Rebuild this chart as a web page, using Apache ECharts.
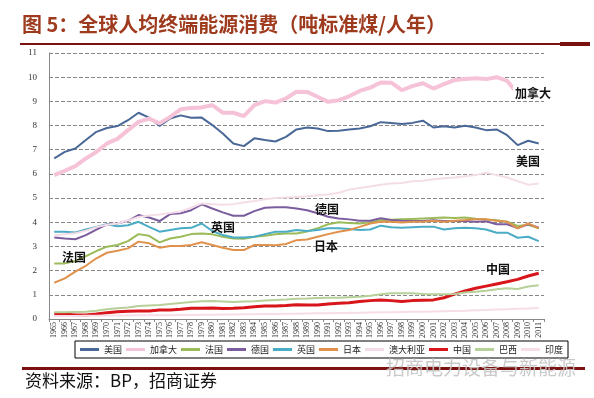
<!DOCTYPE html>
<html>
<head>
<meta charset="utf-8">
<script src="https://cdn.jsdelivr.net/npm/echarts@6/dist/echarts.min.js"></script>
<style>
    html, body { margin: 0; padding: 0; background: #fff; }
    #chart { width: 594px; height: 398px; }
</style>
</head>
<body>
<div id="chart"></div>
<script>
// years on the x axis
var years = ["1965","1966","1967","1968","1969","1970","1971","1972","1973","1974",
    "1975","1976","1977","1978","1979","1980","1981","1982","1983","1984",
    "1985","1986","1987","1988","1989","1990","1991","1992","1993","1994",
    "1995","1996","1997","1998","1999","2000","2001","2002","2003","2004",
    "2005","2006","2007","2008","2009","2010","2011"];

// per capita final energy use, tce / person-year
var usa = [6.64,6.91,7.05,7.40,7.74,7.90,7.98,8.22,8.53,8.33,
    7.98,8.29,8.42,8.32,8.33,8.02,7.67,7.26,7.15,7.47,
    7.40,7.34,7.53,7.84,7.92,7.88,7.77,7.78,7.84,7.88,
    7.97,8.14,8.11,8.06,8.11,8.20,7.92,7.97,7.92,7.99,
    7.92,7.81,7.84,7.60,7.19,7.37,7.26];
var canada = [5.95,6.13,6.32,6.64,6.91,7.26,7.45,7.81,8.15,8.29,
    8.09,8.36,8.67,8.73,8.75,8.84,8.53,8.53,8.39,8.84,
    9.01,8.95,9.12,9.40,9.39,9.19,8.98,9.05,9.21,9.43,
    9.57,9.78,9.77,9.46,9.63,9.75,9.53,9.71,9.88,9.92,
    9.96,9.92,10.00,9.85,9.30,9.40,9.40];
var france = [2.30,2.30,2.40,2.60,2.81,2.99,3.06,3.22,3.51,3.44,
    3.17,3.33,3.40,3.51,3.54,3.50,3.40,3.33,3.32,3.40,
    3.44,3.50,3.54,3.54,3.62,3.75,3.92,4.00,3.97,3.95,
    4.00,4.08,4.10,4.12,4.14,4.16,4.18,4.20,4.18,4.20,
    4.15,4.12,4.08,4.02,3.85,3.90,3.75];
var germany = [3.37,3.33,3.30,3.47,3.70,3.91,3.95,4.06,4.30,4.20,
    4.05,4.34,4.37,4.50,4.74,4.57,4.41,4.27,4.27,4.46,
    4.60,4.62,4.62,4.57,4.50,4.37,4.23,4.16,4.12,4.06,
    4.06,4.17,4.09,4.06,4.05,4.05,4.08,4.05,4.05,4.05,
    4.02,4.04,3.92,3.92,3.76,3.92,3.78];
var uk = [3.61,3.61,3.58,3.70,3.81,3.92,3.84,3.88,4.02,3.81,
    3.61,3.68,3.75,3.77,3.95,3.64,3.47,3.37,3.37,3.40,
    3.51,3.61,3.61,3.68,3.64,3.68,3.75,3.75,3.72,3.68,
    3.70,3.86,3.79,3.77,3.79,3.81,3.82,3.70,3.75,3.77,
    3.75,3.70,3.57,3.57,3.36,3.40,3.22];
var japan = [1.50,1.68,1.96,2.20,2.51,2.74,2.82,2.92,3.20,3.13,
    2.95,3.02,3.02,3.06,3.17,3.06,2.95,2.85,2.85,3.06,
    3.06,3.05,3.10,3.26,3.29,3.40,3.51,3.61,3.68,3.81,
    3.95,4.02,4.02,3.99,4.02,4.02,4.06,4.02,4.06,4.09,
    4.13,4.12,4.06,4.02,3.75,3.95,3.75];
var australia = [3.45,3.50,3.55,3.65,3.80,3.90,3.95,4.08,4.22,4.28,
    4.32,4.38,4.45,4.60,4.78,4.75,4.72,4.75,4.82,4.88,
    4.95,5.00,5.02,5.05,5.08,5.12,5.15,5.22,5.35,5.42,
    5.48,5.55,5.60,5.62,5.70,5.72,5.78,5.82,5.85,5.90,
    5.95,6.05,5.95,5.85,5.70,5.55,5.60];
var china = [0.21,0.21,0.17,0.17,0.21,0.26,0.30,0.32,0.33,0.33,
    0.37,0.37,0.40,0.44,0.44,0.45,0.43,0.44,0.47,0.51,
    0.54,0.54,0.56,0.59,0.58,0.58,0.62,0.65,0.67,0.72,
    0.76,0.79,0.76,0.72,0.76,0.78,0.79,0.88,1.03,1.16,
    1.27,1.36,1.45,1.54,1.64,1.78,1.89];
var brazil = [0.28,0.28,0.29,0.30,0.34,0.40,0.44,0.48,0.54,0.56,
    0.58,0.62,0.66,0.70,0.73,0.74,0.72,0.70,0.72,0.73,
    0.76,0.79,0.81,0.84,0.85,0.87,0.88,0.88,0.90,0.92,
    0.96,1.02,1.06,1.06,1.06,1.03,1.02,1.02,1.03,1.10,
    1.13,1.17,1.23,1.27,1.24,1.34,1.40];
var india = [0.12,0.12,0.12,0.13,0.13,0.14,0.14,0.14,0.15,0.15,
    0.16,0.16,0.17,0.17,0.18,0.18,0.19,0.19,0.20,0.20,
    0.21,0.21,0.22,0.22,0.23,0.24,0.24,0.25,0.25,0.26,
    0.27,0.28,0.28,0.29,0.30,0.30,0.31,0.32,0.33,0.34,
    0.36,0.37,0.39,0.40,0.42,0.43,0.45];

var names = ["美国","加拿大","法国","德国","英国","日本","澳大利亚","中国","巴西","印度"];
var values = [usa, canada, france, germany, uk, japan, australia, china, brazil, india];
var colors = ["#4A6897","#F5C2D8","#9BBB59","#7B5C9E","#4BACC6","#E0924C","#F4DDE8","#D8151B","#B7CF99","#F7DDE7"];
var widths = [2, 4, 2, 2, 2, 2, 2, 3, 2, 2];

var cjk = '"Noto Sans CJK SC", sans-serif';

function note(text, x, y, bg) {
    return {
        type: "text",
        z: 100,
        x: x,
        y: y,
        style: {
            text: text,
            font: "bold 12px " + cjk,
            fill: "#111",
            backgroundColor: bg ? "#fff" : null,
            padding: bg ? [1, 2] : 0
        }
    };
}

var series = [];
for (var i = 0; i < names.length; i++) {
    series.push({
        name: names[i],
        type: "line",
        data: values[i],
        symbol: "none",
        lineStyle: { color: colors[i], width: widths[i] },
        itemStyle: { color: colors[i] }
    });
}

var myChart = echarts.init(document.getElementById("chart"));
myChart.setOption({
    animation: false,
    backgroundColor: "#fff",
    grid: { left: 49, right: 50, top: 53, bottom: 79 },
    legend: {
        data: names,
        left: 75,
        top: 341,
        icon: "rect",
        itemWidth: 19,
        itemHeight: 3,
        itemGap: 4,
        padding: [4, 5],
        borderColor: "#000",
        borderWidth: 1,
        textStyle: { fontSize: 9, color: "#222", fontFamily: cjk }
    },
    xAxis: {
        type: "category",
        data: years,
        boundaryGap: true,
        axisLine: { lineStyle: { color: "#888" } },
        axisTick: { show: true, length: 3, lineStyle: { color: "#888" } },
        axisLabel: {
            interval: 0,
            rotate: 90,
            fontSize: 8,
            margin: 3,
            color: "#333",
            fontFamily: "Liberation Serif"
        }
    },
    yAxis: {
        type: "value",
        min: 0,
        max: 11,
        interval: 1,
        axisLine: { show: true, lineStyle: { color: "#888" } },
        axisTick: { show: false },
        axisLabel: { fontSize: 9, color: "#333", margin: 12, fontFamily: "Liberation Serif" },
        splitLine: { lineStyle: { color: "#888", type: "dashed", width: 1 } }
    },
    series: series,
    graphic: [
        {
            type: "text",
            x: 22,
            y: 14,
            style: {
                text: "图 5：全球人均终端能源消费（吨标准煤/人年）",
                font: "bold 20px " + cjk,
                fill: "#9E3B1E"
            }
        },
        { type: "rect", shape: { x: 20, y: 43, width: 542, height: 2 }, style: { fill: "#7A1212" } },
        { type: "rect", shape: { x: 560, y: 42, width: 30, height: 4 }, style: { fill: "#7A1212" } },
        { type: "rect", shape: { x: 22, y: 367, width: 563, height: 3 }, style: { fill: "#7A1212" } },
        {
            type: "text",
            x: 25,
            y: 372,
            style: { text: "资料来源：BP，招商证券", font: "17px " + cjk, fill: "#111" }
        },
        {
            type: "text",
            x: 386,
            y: 358,
            z: 50,
            style: { text: "招商电力设备与新能源", font: "19px " + cjk, fill: "#c4c4c4", opacity: 0.9 }
        },
        note("加拿大", 513, 86, true),
        note("美国", 516, 155, false),
        note("德国", 315, 203, false),
        note("英国", 211, 221, false),
        note("日本", 314, 240, false),
        note("法国", 62, 251, false),
        note("中国", 486, 263, false)
    ]
});
</script>
</body>
</html>
